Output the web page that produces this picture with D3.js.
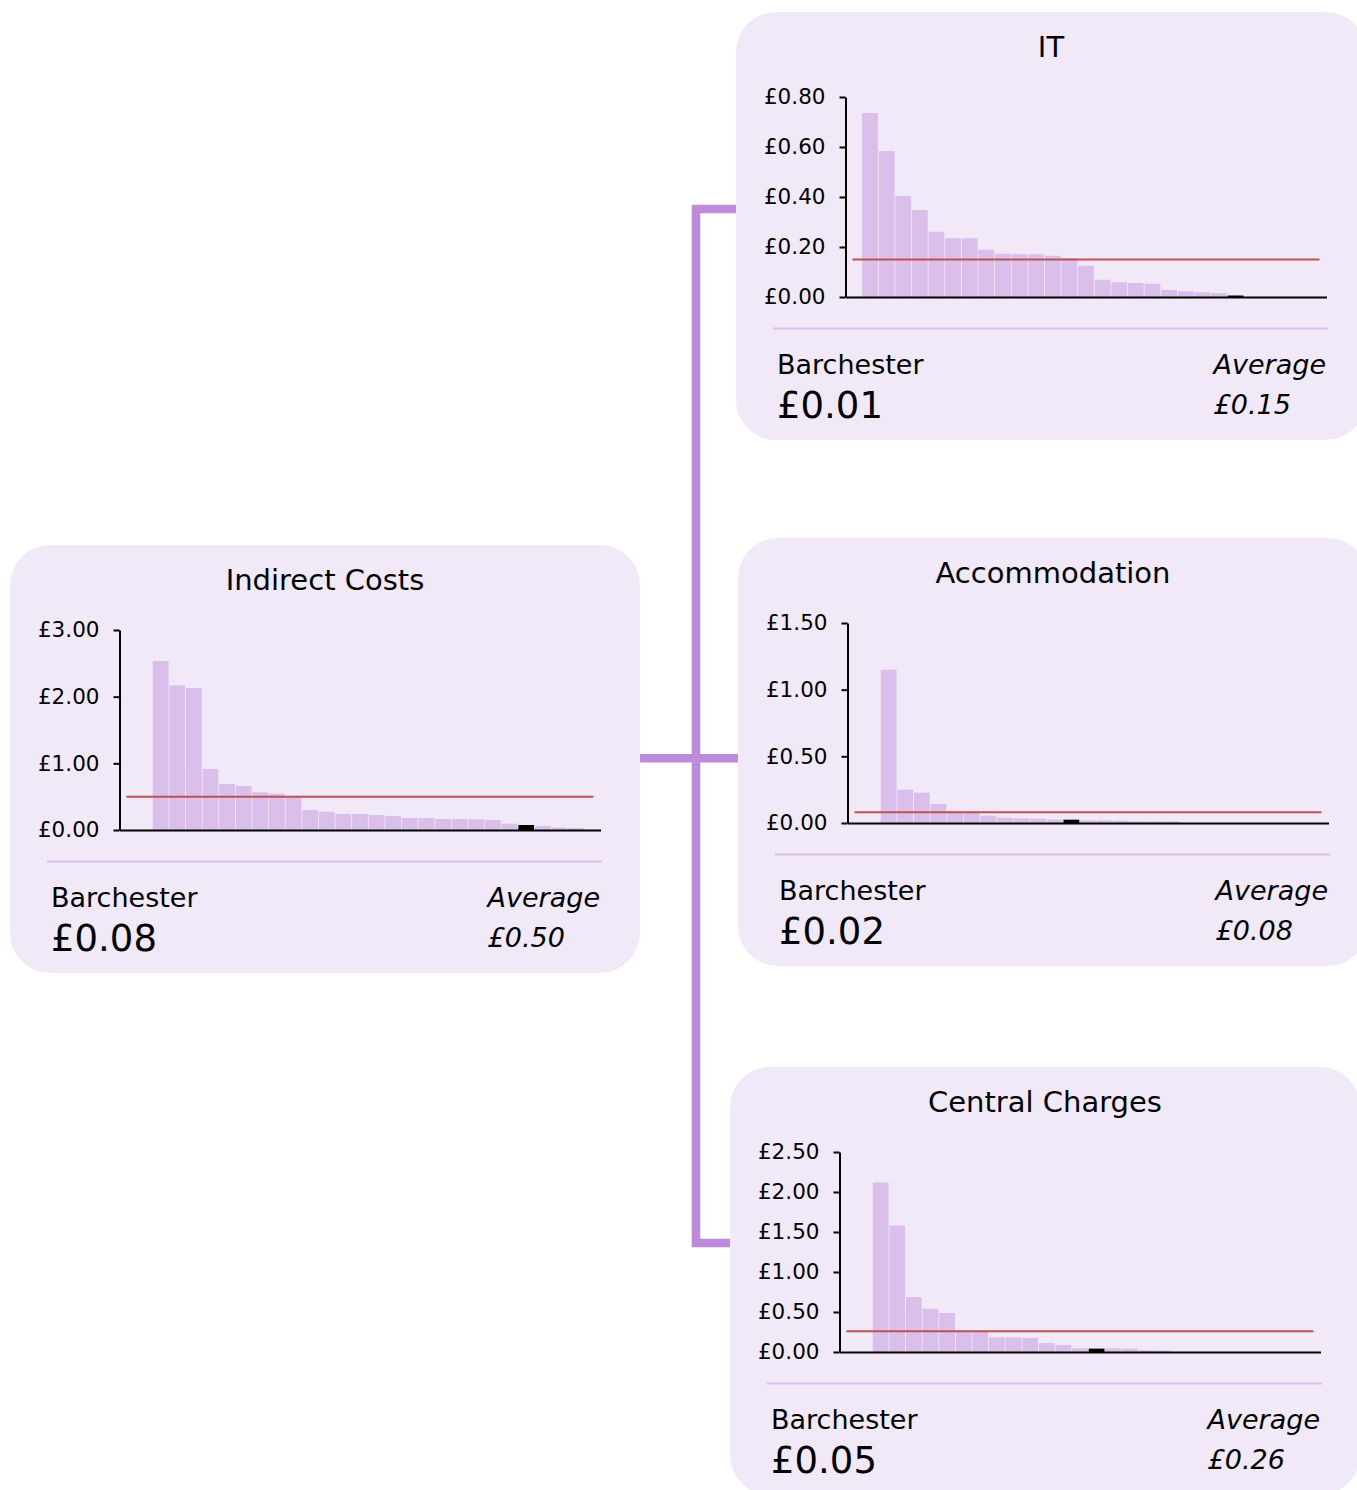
<!DOCTYPE html>
<html>
<head>
<meta charset="utf-8">
<script src="https://cdn.jsdelivr.net/npm/d3@7"></script>
<style>
  html, body { margin: 0; padding: 0; background: #ffffff; }
  svg { display: block; }
</style>
</head>
<body>
<svg id="chart" width="1357" height="1490"></svg>
<script>
// ---------------- DATA ----------------
const titles = ["Indirect Costs", "IT", "Accommodation", "Central Charges"];

// Ranked authority slots (29 per chart); null = empty slot
const indirectCosts = [null, null, 2.535, 2.17, 2.13, 0.915, 0.69, 0.66, 0.565, 0.545, 0.50, 0.30, 0.275,
  0.24, 0.24, 0.225, 0.21, 0.18, 0.18, 0.165, 0.165, 0.16, 0.15, 0.095, 0.075, 0.06, 0.035, 0.03, null];
const itCosts = [null, 0.736, 0.584, 0.404, 0.348, 0.261, 0.235, 0.235, 0.189, 0.173, 0.171, 0.171, 0.165,
  0.155, 0.125, 0.069, 0.059, 0.056, 0.053, 0.028, 0.023, 0.019, 0.015, 0.006, null, null, null, null, null];
const accommodationCosts = [null, null, 1.15, 0.25, 0.2275, 0.1425, 0.09, 0.085, 0.055, 0.04, 0.035, 0.0325,
  0.025, 0.025, 0.02, 0.02, 0.0175, 0.0125, 0.0125, 0.0125, null, null, null, null, null, null, null, null, null];
const centralCharges = [null, null, 2.12, 1.58, 0.6875, 0.54, 0.4875, 0.26, 0.25, 0.183, 0.183, 0.175, 0.1125,
  0.0875, 0.046, 0.042, 0.046, 0.042, 0.021, 0.017, null, null, null, null, null, null, null, null, null];

const seriesValues = [indirectCosts, itCosts, accommodationCosts, centralCharges];
const barchesterSlot = [24, 23, 13, 15];
const barchesterValues = [0.08, 0.01, 0.02, 0.05];
const averages = [0.50, 0.15, 0.08, 0.26];
const yTickValues = [
  [0, 1, 2, 3],
  [0, 0.2, 0.4, 0.6, 0.8],
  [0, 0.5, 1, 1.5],
  [0, 0.5, 1, 1.5, 2, 2.5]
];
const labelName = "Barchester";
const labelAverage = "Average";

// ---------------- LAYOUT ----------------
const FONT = "'DejaVu Sans', Verdana, sans-serif";
const panelPos = [
  { x: 10, y: 545 },
  { x: 736, y: 12 },
  { x: 738, y: 538 },
  { x: 730, y: 1067 }
];
const PW = 630, PH = 428, PR = 40;
const plot = { left: 109.5, top: 85, width: 481, height: 200 };

const C = {
  panel: "#f1e9f7",
  bar: "#d9bfea",
  connector: "#bd8bd9",
  sep: "#d9bfea",
  avg: "#c0504d",
  ink: "#000000"
};

const fmt = v => "£" + d3.format(".2f")(v);
const svg = d3.select("#chart");

// connectors
const conn = svg.append("g").attr("fill", "none").attr("stroke", C.connector).attr("stroke-width", 8.5);
conn.append("path").attr("d", "M737,209 H696 V1243 H735");
conn.append("path").attr("d", "M640,758.3 H740");

titles.forEach((title, i) => {
  const p = panelPos[i];
  const g = svg.append("g").attr("transform", `translate(${p.x},${p.y})`);

  g.append("rect").attr("width", PW).attr("height", PH).attr("rx", PR).attr("ry", PR).attr("fill", C.panel);

  g.append("text")
    .attr("x", PW / 2).attr("y", 45)
    .attr("text-anchor", "middle")
    .attr("font-family", FONT).attr("font-size", 29)
    .attr("fill", C.ink)
    .text(title);

  const values = seriesValues[i];
  const ticks = yTickValues[i];
  const x = d3.scaleBand().domain(d3.range(values.length)).range([0, plot.width]).paddingInner(0.05).paddingOuter(0);
  const y = d3.scaleLinear().domain([0, d3.max(ticks)]).range([plot.height, 0]);

  const pg = g.append("g").attr("transform", `translate(${plot.left},${plot.top})`);

  pg.selectAll("rect.bar")
    .data(values.map((v, k) => ({ v, k })).filter(d => d.v != null))
    .join("rect")
    .attr("class", "bar")
    .attr("x", d => x(d.k))
    .attr("width", x.bandwidth())
    .attr("y", d => y(d.v))
    .attr("height", d => plot.height - y(d.v))
    .attr("fill", d => d.k === barchesterSlot[i] ? "#000" : C.bar);

  // average line
  pg.append("line")
    .attr("x1", 7).attr("x2", plot.width - 7)
    .attr("y1", y(averages[i])).attr("y2", y(averages[i]))
    .attr("stroke", C.avg).attr("stroke-width", 2);

  // y axis
  const ya = pg.append("g")
    .call(d3.axisLeft(y).tickValues(ticks).tickFormat(fmt).tickSize(6).tickPadding(14).tickSizeOuter(0));
  ya.select(".domain").attr("stroke", C.ink).attr("stroke-width", 2);
  ya.selectAll(".tick line").attr("stroke", C.ink).attr("stroke-width", 2);
  ya.selectAll(".tick text").attr("font-family", FONT).attr("font-size", 21.5).attr("fill", C.ink);

  // x axis baseline
  const xa = pg.append("g").attr("transform", `translate(0,${plot.height})`)
    .call(d3.axisBottom(x).tickValues([]).tickSizeOuter(0));
  xa.select(".domain").attr("stroke", C.ink).attr("stroke-width", 2);

  // separator
  g.append("line")
    .attr("x1", 37).attr("x2", 592).attr("y1", 316.5).attr("y2", 316.5)
    .attr("stroke", C.sep).attr("stroke-width", 2);

  g.append("text")
    .attr("x", 41).attr("y", 362)
    .attr("font-family", FONT).attr("font-size", 27).attr("fill", C.ink)
    .text(labelName);
  g.append("text")
    .attr("x", 41).attr("y", 406)
    .attr("font-family", FONT).attr("font-size", 37).attr("fill", C.ink)
    .text(fmt(barchesterValues[i]));

  const avgLabel = g.append("text")
    .attr("x", 590).attr("y", 362)
    .attr("text-anchor", "end")
    .attr("font-family", FONT).attr("font-size", 27).attr("font-style", "italic").attr("fill", C.ink)
    .text(labelAverage);
  const w = avgLabel.node().getComputedTextLength();
  g.append("text")
    .attr("x", 590 - w).attr("y", 402)
    .attr("font-family", FONT).attr("font-size", 27).attr("font-style", "italic").attr("fill", C.ink)
    .text(fmt(averages[i]));
});
</script>
</body>
</html>
